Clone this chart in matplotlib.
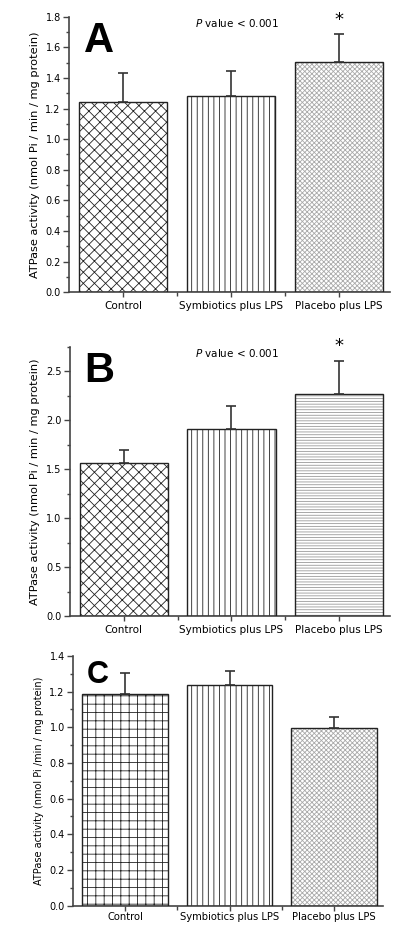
import matplotlib.pyplot as plt
from matplotlib.ticker import MultipleLocator, FixedLocator
import numpy as np

# groups on the x axis
groups = ["Control", "Symbiotics plus LPS", "Placebo plus LPS"]

# panel A
a_means = [1.245, 1.282, 1.504]
a_err = [0.19, 0.16, 0.185]
# panel B
b_means = [1.563, 1.914, 2.268]
b_err = [0.13, 0.232, 0.34]
# panel C
c_means = [1.184, 1.234, 0.998]
c_err = [0.12, 0.083, 0.061]

plt.rcParams['font.family'] = ['DejaVu Sans']
plt.rcParams['hatch.linewidth'] = 0.6

fig = plt.figure(figsize=(3.97, 9.25), dpi=100)


def panel(rect, means, errs, hatches, hatch_colors, ylim, major, minor,
          letter, letter_size, ylabel, ylabel_size, pval=None, star=None,
          xlab_size=7.5, xpad=3):
    ax = fig.add_axes(rect)
    x = np.arange(len(means))
    for i in range(len(means)):
        # hatch layer, then the outline
        ax.bar(x[i], means[i], width=0.82, color='white', edgecolor=hatch_colors[i],
               hatch=hatches[i], linewidth=0, zorder=2)
        ax.bar(x[i], means[i], width=0.82, color='none', edgecolor='#222222',
               linewidth=1.0, zorder=3)
    ax.errorbar(x, means, yerr=[np.zeros(len(errs)), errs], fmt='none',
                ecolor='#333333', elinewidth=1.2, capsize=3.5, capthick=1.2, zorder=4)
    ax.set_xlim(-0.5, 2.47)
    ax.set_ylim(*ylim)
    ax.yaxis.set_major_locator(MultipleLocator(major))
    ax.yaxis.set_minor_locator(MultipleLocator(minor))
    ax.yaxis.set_major_formatter(plt.FormatStrFormatter('%.1f'))
    ax.set_xticks(x)
    ax.set_xticklabels(groups, fontsize=xlab_size)
    ax.xaxis.set_minor_locator(FixedLocator([0.5, 1.5]))
    ax.tick_params(axis='y', labelsize=7, length=4, width=1, color='#444444', pad=2)
    ax.tick_params(axis='y', which='minor', length=2.5, width=1, color='#444444')
    ax.tick_params(axis='x', length=3.5, width=1, color='#444444', pad=xpad)
    ax.tick_params(axis='x', which='minor', length=3, width=1, color='#444444')
    for s in ['top', 'right']:
        ax.spines[s].set_visible(False)
    for s in ['left', 'bottom']:
        ax.spines[s].set_color('#444444')
        ax.spines[s].set_linewidth(1.2)
    ax.set_ylabel(ylabel, fontsize=ylabel_size, labelpad=4)
    ax.text(0.045, 0.985, letter, transform=ax.transAxes, fontsize=letter_size,
            fontweight='bold', family='Liberation Sans', va='top', ha='left')
    if pval is not None:
        ax.text(1.05, pval, r'$P$ value < 0.001', fontsize=7.5, ha='center', va='center')
    if star is not None:
        ax.text(2, star, '*', fontsize=13, ha='center', va='center')
    return ax


panel([0.174, 0.684, 0.808, 0.298], a_means, a_err,
      ['xxx', '|||', 'xxxxxxx'], ['#222222', '#222222', '#aaaaaa'],
      (0, 1.8), 0.2, 0.1, 'A', 30,
      'ATPase activity (nmol Pi / min / mg protein)', 8.2, pval=1.76, star=1.775)

panel([0.176, 0.334, 0.806, 0.291], b_means, b_err,
      ['xxx', '|||', '------'], ['#222222', '#222222', '#999999'],
      (0, 2.75), 0.5, 0.25, 'B', 30,
      'ATPase activity (nmol Pi / min / mg protein)', 8.2, pval=2.69, star=2.76)

panel([0.184, 0.021, 0.781, 0.270], c_means, c_err,
      ['++', '|||', 'xxxxxxx'], ['#222222', '#222222', '#aaaaaa'],
      (0, 1.4), 0.2, 0.1, 'C', 22,
      'ATPase activity (nmol Pi /min / mg protein)', 7, pval=None, star=None,
      xlab_size=7.2, xpad=1)

fig.savefig('out.png', dpi=100)
